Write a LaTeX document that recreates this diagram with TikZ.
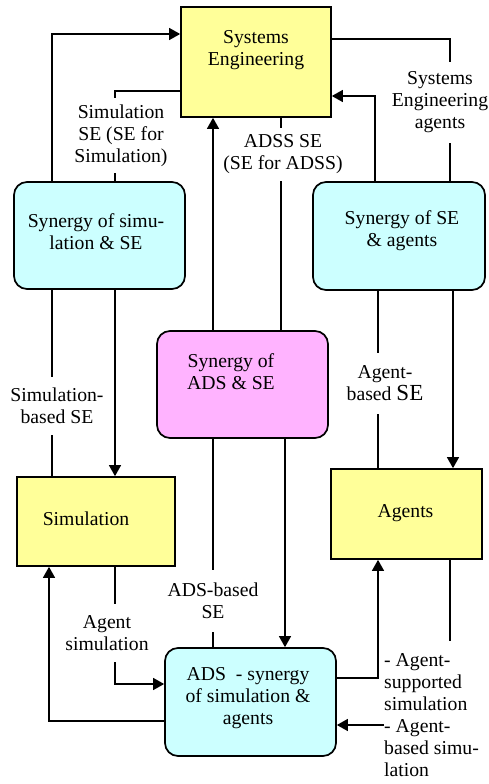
\documentclass[tikz,border=0pt]{standalone}
\usepackage{fontspec}
\setmainfont{Liberation Serif}
\usetikzlibrary{arrows.meta,calc}
\definecolor{boxyellow}{HTML}{FFFF99}
\definecolor{boxcyan}{HTML}{CCFFFF}
\definecolor{boxpink}{HTML}{FFB3FF}
\tikzset{
  yellowbox/.style={draw, line width=1.7pt, fill=boxyellow, inner sep=0pt},
  cyanbox/.style={draw, line width=1.7pt, fill=boxcyan, rounded corners=13pt, inner sep=0pt},
  pinkbox/.style={draw, line width=1.7pt, fill=boxpink, rounded corners=13pt, inner sep=0pt},
  txt/.style={align=center, inner sep=0pt, font=\fontsize{19.7}{22}\selectfont},
  conn/.style={line width=1.3pt},
  arr/.style={conn, -{Triangle[length=11pt,width=12pt]}},
}
\begin{document}
\begin{tikzpicture}[x=1pt,y=-1pt]
\path[use as bounding box] (0,0) rectangle (489,784);
% boxes
\node[yellowbox, minimum width=150pt, minimum height=110pt] (se) at (256,62) {};
\node[cyanbox, minimum width=171pt, minimum height=107pt] (ssim) at (99.5,235.5) {};
\node[cyanbox, minimum width=172pt, minimum height=108pt] (sag) at (399,236) {};
\node[pinkbox, minimum width=171pt, minimum height=107pt] (sads) at (242.5,384.5) {};
\node[yellowbox, minimum width=158pt, minimum height=89pt] (sim) at (96,521.5) {};
\node[yellowbox, minimum width=151pt, minimum height=90pt] (ag) at (406.5,514) {};
\node[cyanbox, minimum width=171pt, minimum height=108pt] (ads) at (250.5,702) {};
% box texts
\node[txt] (se-t) at (256,50) {Systems\\Engineering};
\node[txt] (ssim-t) at (96,232) {Synergy of simu-\\lation \& SE};
\node[txt] (sag-t) at (402,231) {Synergy of SE\\\& agents};
\node[txt] (sads-t) at (231,372) {Synergy of\\ADS \& SE};
\node[txt] (sim-t) at (86,519) {Simulation};
\node[txt] (ag-t) at (405.5,513) {Agents};
\node[txt] (ads-t) at (248,698) {ADS\ \ - synergy\\of simulation \&\\agents};
% labels
\node[txt, minimum height=75pt] (lsimse) at (121,135.5) {Simulation\\SE (SE for\\Simulation)};
\node[txt, minimum height=53pt] (ladss) at (283,154.5) {ADSS SE\\(SE for ADSS)};
\node[txt, minimum height=81pt] (lseag) at (440,102.5) {Systems\\Engineering\\agents};
\node[txt, minimum height=58pt] (lsimbse) at (57,406) {Simulation-\\based SE};
\node[txt, minimum height=61pt] (lagbse) at (385,383.5) {Agent-\\based {\fontsize{23}{22}\selectfont SE}};
\node[txt, minimum height=62pt] (ladsbse) at (213,601) {ADS-based\\SE};
\node[txt, minimum height=58pt] (lagsim) at (107,633) {Agent\\simulation};
\node[txt, align=left, anchor=north west, inner ysep=12pt] (lsup) at (384,641) {- Agent-\\supported\\simulation};
\node[txt, align=left, anchor=north west] (lbased) at (384,719) {- Agent-\\based simu-\\lation};
% columns
\coordinate (c49) at (49,0);
\coordinate (c52) at (52,0);
\coordinate (c115) at (115,0);
\coordinate (c213) at (213,0);
\coordinate (c281) at (281,0);
\coordinate (c285) at (285,0);
\coordinate (c375) at (375,0);
\coordinate (c378) at (378,0);
\coordinate (c450) at (450,0);
\coordinate (c453) at (453,0);
% connectors
\draw[arr] (ssim.north -| c52) |- ([yshift=28pt]se.west);
\draw[conn] (ssim.north -| c115) -- (lsimse.south -| c115);
\draw[conn] (lsimse.north -| c115) |- ([yshift=-29pt]se.west);
\draw[arr] (sads.north -| c213) -- (se.south -| c213);
\draw[conn] (se.south -| c281) -- (ladss.north -| c281);
\draw[conn] (ladss.south -| c281) -- (sads.north -| c281);
\draw[conn] ([yshift=23pt]se.east) -| (lseag.north -| c450);
\draw[conn] (lseag.south -| c450) -- (sag.north -| c450);
\draw[arr] (sag.north -| c375) |- ([yshift=-34pt]se.east);
\draw[conn] (ssim.south -| c52) -- (lsimbse.north -| c52);
\draw[conn] (lsimbse.south -| c52) -- (sim.north -| c52);
\draw[arr] (ssim.south -| c115) -- (sim.north -| c115);
\draw[conn] (sads.south -| c213) -- (ladsbse.north -| c213);
\draw[conn] (ladsbse.south -| c213) -- (ads.north -| c213);
\draw[arr] (sads.south -| c285) -- (ads.north -| c285);
\draw[conn] (sag.south -| c378) -- (lagbse.north -| c378);
\draw[conn] (lagbse.south -| c378) -- (ag.north -| c378);
\draw[arr] (sag.south -| c453) -- (ag.north -| c453);
\draw[arr] ([yshift=24pt]ads.east) -| (ag.south -| c378);
\draw[conn] (ag.south -| c450) -- (lsup.north -| c450);
\coordinate (a725) at ([yshift=-23pt]ads.east);
\draw[arr] (a725 -| lbased.west) -- (a725);
\draw[conn] (sim.south -| c115) -- (lagsim.north -| c115);
\draw[arr] (lagsim.south -| c115) |- ([yshift=18pt]ads.west);
\draw[arr] ([yshift=-19pt]ads.west) -| (sim.south -| c49);
\end{tikzpicture}
\end{document}
